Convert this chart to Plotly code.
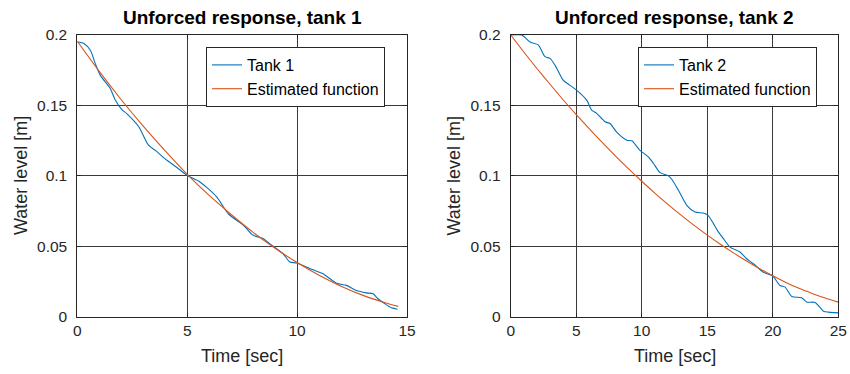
import plotly.graph_objects as go

# ---- Tank 1: measured response and fitted curve ----
t_tank1 = [0, 0.3, 0.6, 0.81, 1.04, 1.5, 1.72, 2.03, 2.26, 2.79, 3.24, 3.55, 4.08, 4.6,
           5.02, 5.58, 6.34, 6.87, 7.56, 8.0, 8.47, 8.75, 9.36, 9.67, 9.97, 10.73, 11.18,
           11.79, 12.24, 12.7, 13.15, 13.46, 13.68, 14.0, 14.3, 14.57]
h_tank1 = [0.195, 0.194, 0.189, 0.180, 0.1715, 0.162, 0.154, 0.147, 0.144, 0.135, 0.1217,
           0.118, 0.111, 0.105, 0.100, 0.0956, 0.085, 0.073, 0.0648, 0.0577, 0.0553, 0.0518,
           0.0446, 0.0387, 0.038, 0.0332, 0.0304, 0.0237, 0.0221, 0.0185, 0.0168, 0.0161,
           0.0126, 0.009, 0.0062, 0.0052]
t_fit1 = [0, 1, 2, 3, 4, 5, 6, 7, 8, 9, 10, 11, 12, 13, 14, 14.6]
h_fit1 = [0.1955, 0.1741, 0.1540, 0.1352, 0.1176, 0.1010, 0.0860, 0.0725, 0.0598, 0.0485,
          0.0383, 0.0293, 0.0215, 0.0150, 0.0098, 0.0072]

# ---- Tank 2: measured response and fitted curve ----
t_tank2 = [0, 0.84, 1.47, 2.1, 2.62, 3.0, 3.38, 4.0, 4.5, 5.0, 5.8, 6.18, 6.56, 7.2, 7.58,
           8.09, 8.85, 9.24, 9.87, 10.5, 10.9, 11.4, 12.03, 12.29, 12.8, 13.44, 14.07, 14.7,
           15.06, 15.47, 15.77, 16.23, 16.74, 17.5, 18.0, 18.52, 19.28, 19.92, 20.08, 20.56,
           20.94, 21.45, 22.2, 22.6, 23.23, 23.87, 24.25, 25]
h_tank2 = [0.2, 0.2, 0.195, 0.193, 0.1846, 0.1834, 0.1786, 0.168, 0.1644, 0.161, 0.1537,
           0.1466, 0.1443, 0.1383, 0.1371, 0.131, 0.1253, 0.1248, 0.118, 0.1134, 0.1087,
           0.1022, 0.1000, 0.0975, 0.0897, 0.079, 0.0742, 0.0735, 0.0719, 0.066, 0.0612,
           0.0553, 0.0493, 0.0458, 0.041, 0.0375, 0.0315, 0.0292, 0.028, 0.022, 0.0209,
           0.0142, 0.0133, 0.0102, 0.01, 0.0038, 0.0031, 0.0026]
t_fit2 = list(range(0, 26))
h_fit2 = [0.2000, 0.1879, 0.1762, 0.1650, 0.1540, 0.1435, 0.1333, 0.1235, 0.1140, 0.1049,
          0.0961, 0.0877, 0.0797, 0.0720, 0.0647, 0.0578, 0.0513, 0.0452, 0.0394, 0.0340,
          0.0289, 0.0242, 0.0200, 0.0164, 0.0131, 0.0102]

# ---- axis ticks ----
x_ticks1 = [0, 5, 10, 15]
x_ticks2 = [0, 5, 10, 15, 20, 25]
y_ticks = [0, 0.05, 0.1, 0.15, 0.2]
y_tick_text = ["0", "0.05", "0.1", "0.15", "0.2"]

BLUE = "#0072BD"
ORANGE = "#D95319"
FONT = "Liberation Sans, Arial, sans-serif"
W, H = 850, 374

# plot-area boxes in pixels (left, right, top, bottom)
box1 = (77.3, 407.0, 35.0, 316.5)
box2 = (510.7, 838.3, 35.0, 316.5)


def xdom(b):
    return [b[0] / W, b[1] / W]


def ydom(b):
    return [(H - b[3]) / H, (H - b[2]) / H]


fig = go.Figure()

line_kw = dict(mode="lines", line_shape="spline")
fig.add_trace(go.Scatter(x=t_tank1, y=h_tank1, name="Tank 1", xaxis="x", yaxis="y",
                         line=dict(color=BLUE, width=1.1, smoothing=0.7), legend="legend", **line_kw))
fig.add_trace(go.Scatter(x=t_fit1, y=h_fit1, name="Estimated function", xaxis="x", yaxis="y",
                         line=dict(color=ORANGE, width=1.1, smoothing=0.7), legend="legend", **line_kw))
fig.add_trace(go.Scatter(x=t_tank2, y=h_tank2, name="Tank 2", xaxis="x2", yaxis="y2",
                         line=dict(color=BLUE, width=1.1, smoothing=0.7), legend="legend2", **line_kw))
fig.add_trace(go.Scatter(x=t_fit2, y=h_fit2, name="Estimated function", xaxis="x2", yaxis="y2",
                         line=dict(color=ORANGE, width=1.1, smoothing=0.7), legend="legend2", **line_kw))

axis_common = dict(
    showgrid=True, gridcolor="#3a3a3a", gridwidth=1,
    showline=True, linecolor="#262626", linewidth=1, mirror="ticks",
    ticks="inside", ticklen=4, tickcolor="#262626",
    zeroline=False, tickfont=dict(family=FONT, size=15.5, color="#262626"),
    automargin=False, fixedrange=True,
)

legend_common = dict(
    xanchor="left", yanchor="top",
    bgcolor="white", bordercolor="#262626", borderwidth=1,
    font=dict(family=FONT, size=16, color="#000000"), tracegroupgap=0,
    itemwidth=30,
)

fig.update_layout(
    width=W, height=H, autosize=False,
    margin=dict(l=0, r=0, t=0, b=0, pad=0, autoexpand=False),
    paper_bgcolor="white", plot_bgcolor="white",
    xaxis=dict(domain=xdom(box1), range=[0, 15], tickvals=x_ticks1, anchor="y",
               ticklabelstandoff=0, **axis_common),
    yaxis=dict(domain=ydom(box1), range=[0, 0.2], tickvals=y_ticks, ticktext=y_tick_text,
               anchor="x", ticklabelstandoff=6, **axis_common),
    xaxis2=dict(domain=xdom(box2), range=[0, 25], tickvals=x_ticks2, anchor="y2",
                ticklabelstandoff=0, **axis_common),
    yaxis2=dict(domain=ydom(box2), range=[0, 0.2], tickvals=y_ticks, ticktext=y_tick_text,
                anchor="x2", ticklabelstandoff=6, **axis_common),
    legend=dict(x=206 / W, y=(H - 47) / H, **legend_common),
    legend2=dict(x=638 / W, y=(H - 47) / H, **legend_common),
    showlegend=True,
)

annotations = []
for b, title in ((box1, "Unforced response, tank 1"), (box2, "Unforced response, tank 2")):
    cx = (b[0] + b[1]) / 2
    annotations.append(dict(text="<b>" + title + "</b>", x=cx / W, y=(H - 18) / H,
                            xref="paper", yref="paper", xanchor="center", yanchor="middle",
                            showarrow=False, font=dict(family=FONT, size=19, color="#000000")))
    annotations.append(dict(text="Time [sec]", x=cx / W, y=(H - 356) / H,
                            xref="paper", yref="paper", xanchor="center", yanchor="middle",
                            showarrow=False, font=dict(family=FONT, size=18, color="#262626")))
    annotations.append(dict(text="Water level [m]", x=(b[0] - 57) / W, y=(H - (b[2] + b[3]) / 2) / H,
                            xref="paper", yref="paper", xanchor="center", yanchor="middle",
                            textangle=-90, showarrow=False,
                            font=dict(family=FONT, size=18, color="#262626")))
fig.update_layout(annotations=annotations)

# keep the figure flush with the page edges
fig.write_html("out.html", config={"responsive": False},
               post_script="document.body.style.margin='0';document.body.style.overflow='hidden';")
